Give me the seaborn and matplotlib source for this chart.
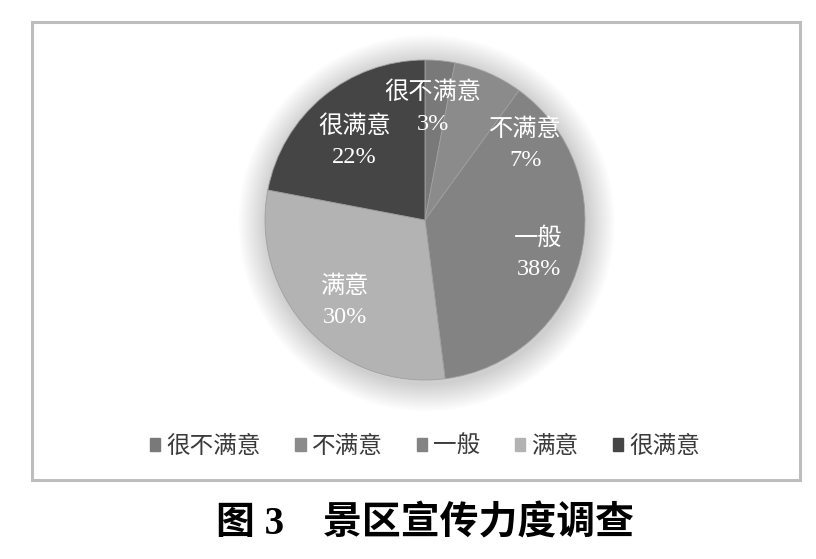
import numpy as np
import matplotlib
matplotlib.use("Agg")
from matplotlib import pyplot as plt
from matplotlib.patches import Circle, Rectangle
import seaborn as sns

# data
categories = ["很不满意", "不满意", "一般", "满意", "很满意"]
shares = [3, 7, 38, 30, 22]
colors = ["#797979", "#8b8b8b", "#838383", "#b3b3b3", "#454545"]
title = "图 3　景区宣传力度调查"

# label block centres inside the pie (radius units)
label_pos = [(0.05, 0.70), (0.63, 0.47), (0.71, -0.21), (-0.50, -0.51), (-0.44, 0.49)]

sns.set_theme(style="white")
plt.rcParams["font.family"] = ["Liberation Serif", "Noto Sans CJK SC", "DejaVu Sans"]

W, H = 816, 559
fig = plt.figure(figsize=(W / 100, H / 100), dpi=100)
fig.patch.set_facecolor("white")

# outer frame
frame = Rectangle((32 / W, 1 - 480 / H), 768 / W, 458 / H, transform=fig.transFigure,
                  fill=False, edgecolor="#bdbdbd", linewidth=2.2)
fig.add_artist(frame)

cx, cy, R = 425, 220, 170
ax = fig.add_axes([(cx - R - 30) / W, 1 - (cy + R + 30) / H, (2 * R + 60) / W, (2 * R + 60) / H])
ax.set_xlim(-1 - 30 / R, 1 + 30 / R)
ax.set_ylim(-1 - 30 / R, 1 + 30 / R)
ax.set_aspect("equal")
ax.axis("off")

# soft shadow behind the pie
for i in range(16):
    ax.add_patch(Circle((0.01, -0.02), 1 + 0.011 * (16 - i), color="black",
                        alpha=0.011, linewidth=0, zorder=0))

wedges, _ = ax.pie(shares, colors=colors, startangle=90, counterclock=False, radius=1,
                   wedgeprops=dict(edgecolor="#a0a0a0", linewidth=0.6))
for w in wedges:
    w.set_zorder(2)

for name, val, (x, y) in zip(categories, shares, label_pos):
    ax.text(x, y + 0.095, name, color="white", ha="center", va="center", fontsize=17.5, zorder=3)
    ax.text(x, y - 0.10, f"{val}%", color="white", ha="center", va="center", fontsize=17.5, zorder=3)

# legend
handles = [Rectangle((0, 0), 1, 1, color=c) for c in colors]
fig.legend(handles, categories, loc="center", bbox_to_anchor=(425 / W, 1 - 447 / H),
           ncol=5, frameon=False, fontsize=17, handlelength=0.45, handleheight=0.45,
           handletextpad=0.25, columnspacing=1.45, labelcolor="#3a3a3a")

fig.text(425 / W, 1 - 525 / H, title, ha="center", va="center", fontsize=28,
         fontweight="bold", color="black")

fig.savefig("out.png", dpi=100, facecolor="white")
